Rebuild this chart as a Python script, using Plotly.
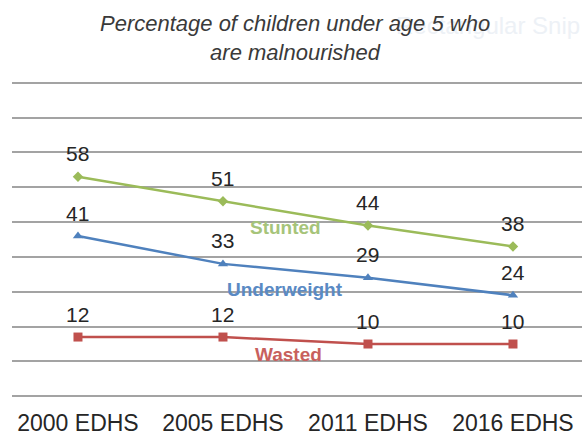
import plotly.graph_objects as go

categories = ["2000 EDHS", "2005 EDHS", "2011 EDHS", "2016 EDHS"]
stunted = [58, 51, 44, 38]
underweight = [41, 33, 29, 24]
wasted = [12, 12, 10, 10]
series_names = ["Stunted", "Underweight", "Wasted"]
grid_values = [-5, 5, 15, 25, 35, 45, 55, 65, 75, 85]
title_text = "Percentage of children under age 5 who<br>are malnourished"

FONT = "Liberation Sans, Arial, sans-serif"
line_colors = ["#9BBB59", "#4F81BD", "#C0504D"]
name_colors = ["#A6C47A", "#5A8AC4", "#C8605D"]
symbols = ["diamond", "triangle-up", "square"]
msizes = [8, 9, 9]
# where the series names sit (category position, value position)
name_pos = [(1.43, 43.4), (1.43, 25.6), (1.45, 6.9)]

fig = go.Figure()
all_series = [stunted, underweight, wasted]
for vals, name, lc, sym, ms in zip(all_series, series_names, line_colors, symbols, msizes):
    fig.add_trace(go.Scatter(
        x=categories, y=vals, mode="lines+markers", name=name,
        line=dict(color=lc, width=2.5),
        marker=dict(symbol=sym, size=ms, color=lc),
        showlegend=False, cliponaxis=False,
    ))

annotations = []
# faint watermark behind the title
annotations.append(dict(
    x=1.0, y=(398 - 26) / 317, xref="paper", yref="paper", xanchor="right",
    yanchor="middle", text="Rectangular Snip", showarrow=False,
    font=dict(family=FONT, size=24, color="#EDF1F6"),
))
annotations.append(dict(
    x=(295 - 12) / 570, y=(398 - 38) / 317, xref="paper", yref="paper",
    xanchor="center", yanchor="middle", text=title_text, showarrow=False,
    font=dict(family=FONT, size=22, color="#3A3A3A", style="italic"),
))
for vals in all_series:
    for c, v in zip(categories, vals):
        annotations.append(dict(
            x=c, y=v, xref="x", yref="y", text=str(v), showarrow=False,
            yshift=23, font=dict(family=FONT, size=21, color="#262626"),
        ))
for name, nc, (px, py) in zip(series_names, name_colors, name_pos):
    annotations.append(dict(
        x=px, y=py, xref="x", yref="y", text="<b>" + name + "</b>", showarrow=False,
        font=dict(family=FONT, size=19, color=nc),
    ))

fig.update_layout(
    width=582, height=435,
    margin=dict(l=12, r=0, t=81, b=37),
    paper_bgcolor="white", plot_bgcolor="white",
    xaxis=dict(
        type="category", range=[-0.455, 3.476], showgrid=False, zeroline=False,
        showline=False, ticks="", ticklabelstandoff=9,
        tickfont=dict(family=FONT, size=23, color="#262626"),
    ),
    yaxis=dict(
        range=[-5.5, 85.5], tickvals=grid_values, showticklabels=False,
        showgrid=True, gridcolor="#A3A3A3", gridwidth=1.5, zeroline=False,
        showline=False, ticks="",
    ),
    annotations=annotations,
)

fig.write_html("out.html")
